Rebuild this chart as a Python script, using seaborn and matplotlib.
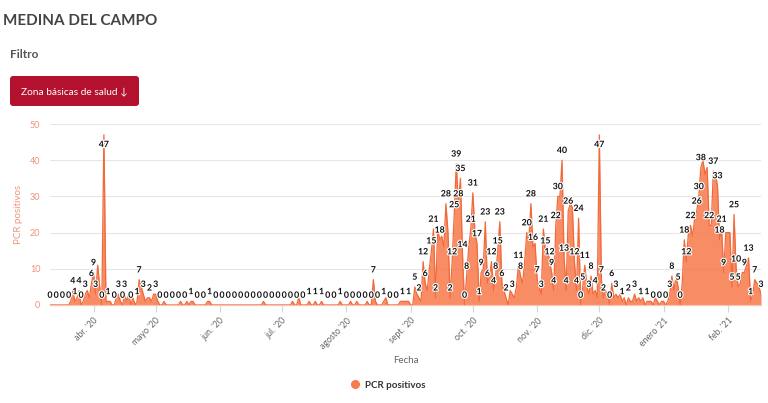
import numpy as np
import pandas as pd
import matplotlib
matplotlib.use("Agg")
import matplotlib.pyplot as plt
import matplotlib.patheffects as pe
from matplotlib.patches import FancyBboxPatch
from matplotlib.lines import Line2D
import seaborn as sns

# ---------------- data (daily PCR positives) ----------------
start_date = "2020-03-11"
pcr_mar_2020 = [0, 0, 0, 0, 0, 0, 0, 0, 0, 0, 1, 4, 1, 2, 4, 0, 1, 3, 4, 2, 6]
pcr_apr_2020 = [9, 3, 11, 5, 0, 47, 1, 1, 1, 0, 0, 2, 3, 1, 0, 3, 1, 3, 0, 2,
                0, 1, 7, 5, 3, 1, 2, 2, 1, 3]
pcr_may_2020 = [3, 1, 0, 0, 1, 0, 0, 0, 0, 0, 0, 0, 1, 0, 0, 1, 0, 1, 1, 0,
                0, 0, 0, 0, 0, 1, 1, 0, 0, 0, 0]
pcr_jun_2020 = [0, 0, 0, 0, 0, 0, 0, 0, 0, 0, 0, 0, 0, 0, 0, 0, 0, 0, 0, 0,
                0, 1, 0, 0, 0, 0, 0, 0, 0, 0]
pcr_jul_2020 = [0, 0, 0, 0, 0, 1, 0, 0, 2, 0, 0, 0, 0, 1, 0, 0, 1, 0, 0, 1,
                0, 0, 0, 0, 0, 0, 0, 0, 1, 0, 0]
pcr_aug_2020 = [0, 0, 1, 0, 0, 1, 0, 0, 0, 0, 1, 0, 0, 7, 1, 0, 0, 0, 1, 2,
                0, 0, 0, 0, 0, 0, 1, 1, 1, 1, 1]
pcr_sep_2020 = [0, 0, 5, 3, 2, 1, 12, 6, 4, 10, 15, 21, 2, 21, 18, 19, 16, 28, 20, 2,
                12, 25, 39, 28, 35, 14, 0, 8, 16, 21]
pcr_oct_2020 = [31, 20, 17, 1, 9, 10, 23, 6, 8, 12, 4, 8, 15, 23, 6, 4, 2, 0, 4, 3,
                2, 5, 11, 8, 6, 12, 20, 18, 28, 16, 17]
pcr_nov_2020 = [7, 5, 3, 21, 15, 16, 12, 9, 4, 22, 30, 30, 40, 13, 4, 26, 28, 27, 12, 4,
                24, 0, 5, 11, 5, 3, 8, 3, 4, 2]
pcr_dec_2020 = [47, 7, 2, 4, 3, 0, 6, 2, 3, 2, 3, 1, 2, 0, 2, 1, 1, 3, 1, 2,
                1, 2, 0, 1, 1, 1, 0, 2, 1, 0, 1]
pcr_jan_2021 = [1, 0, 1, 3, 8, 4, 8, 5, 0, 6, 18, 12, 20, 22, 19, 24, 26, 30, 38, 40,
                36, 38, 22, 22, 37, 36, 33, 18, 21, 9, 20]
pcr_feb_2021 = [20, 20, 5, 25, 10, 5, 6, 9, 9, 11, 13, 1, 3, 7, 6, 5, 3]

month_ticks = ["2020-04-01", "2020-05-01", "2020-06-01", "2020-07-01", "2020-08-01",
               "2020-09-01", "2020-10-01", "2020-11-01", "2020-12-01", "2021-01-01",
               "2021-02-01"]
month_labels = ["abr. '20", "mayo '20", "jun. '20", "jul. '20", "agosto '20",
                "sept. '20", "oct. '20", "nov. '20", "dic. '20", "enero '21", "feb. '21"]
y_ticks = [0, 10, 20, 30, 40, 50]

values = (pcr_mar_2020 + pcr_apr_2020 + pcr_may_2020 + pcr_jun_2020 + pcr_jul_2020 +
          pcr_aug_2020 + pcr_sep_2020 + pcr_oct_2020 + pcr_nov_2020 + pcr_dec_2020 +
          pcr_jan_2021 + pcr_feb_2021)
dates = pd.date_range(start_date, periods=len(values), freq="D")
df = pd.DataFrame({"Fecha": dates, "PCR positivos": values})

# ---------------- style ----------------
sns.set_theme(style="white")
plt.rcParams["font.family"] = ["Lato", "DejaVu Sans"]

W, H = 768, 403
fig = plt.figure(figsize=(W / 100, H / 100), dpi=100)
fig.patch.set_facecolor("white")

x0, x1, ytop, ybot = 50, 761, 124, 305
ax = fig.add_axes([x0 / W, 1 - ybot / H, (x1 - x0) / W, (ybot - ytop) / H])
ax.set_facecolor("white")

fill_color = "#F67C50"
line_color = "#F2693A"
ax.fill_between(df["Fecha"], df["PCR positivos"], 0, color=fill_color, alpha=0.88,
                linewidth=0, zorder=2)
sns.lineplot(data=df, x="Fecha", y="PCR positivos", ax=ax, color=line_color,
             linewidth=0.9, legend=False, zorder=3)

ax.set_xlim(dates[0], dates[-1])
ax.set_ylim(0, 50)
ax.set_yticks(y_ticks)
ax.set_yticklabels([str(v) for v in y_ticks])
ax.yaxis.grid(True, color="#e6e6e6", linewidth=0.8)
ax.xaxis.grid(False)
ax.set_axisbelow(True)

ax.set_xticks(pd.to_datetime(month_ticks))
ax.set_xticklabels(month_labels, rotation=45, ha="right", va="top",
                   rotation_mode="anchor")
ax.tick_params(axis="x", length=5, width=0.8, color="#ccd6eb", labelsize=6.3,
               labelcolor="#666666", pad=3, direction="out", bottom=True)
ax.tick_params(axis="y", length=0, labelsize=6.5, labelcolor="#F0937B", pad=7)

for s in ["top", "right", "left"]:
    ax.spines[s].set_visible(False)
ax.spines["bottom"].set_color("#f3c4b4")
ax.spines["bottom"].set_linewidth(0.9)

ax.set_xlabel("Fecha", fontsize=7, color="#666666", labelpad=4)
ax.set_ylabel("PCR positivos", fontsize=7, color="#F0937B", labelpad=5)

# ---------------- header ----------------
fig.text(3 / W, 1 - 21 / H, "MEDINA DEL CAMPO", fontsize=11, fontweight="bold",
         color="#444444", va="center", ha="left")
fig.text(10 / W, 1 - 54 / H, "Filtro", fontsize=8.5, fontweight="bold",
         color="#555555", va="center", ha="left")
btn = FancyBboxPatch((10 / W, 1 - 106 / H), 129 / W, 30 / H,
                     boxstyle="round,pad=0,rounding_size=0.004",
                     transform=fig.transFigure, facecolor="#B3112E",
                     edgecolor="none", mutation_aspect=W / H)
fig.patches.append(btn)
fig.text(74.5 / W, 1 - 91.5 / H, "Zona básicas de salud ↓", fontsize=7.3,
         color="white", va="center", ha="center")

# ---------------- legend ----------------
handle = Line2D([], [], marker="o", linestyle="none", markersize=5.5,
                markerfacecolor=fill_color, markeredgecolor=fill_color)
fig.legend(handles=[handle], labels=["PCR positivos"], loc="center",
           bbox_to_anchor=(388 / W, 1 - 385 / H), frameon=False,
           prop={"weight": "bold", "size": 7}, handletextpad=0.5,
           handlelength=1.0, labelcolor="#333333")

# ---------------- data labels (greedy overlap hiding) ----------------
fig.canvas.draw()
renderer = fig.canvas.get_renderer()
placed = []
for d, v in zip(dates, values):
    below = v > 45
    t = ax.annotate(str(v), (d, v), xytext=(0, -7 if below else 7),
                    textcoords="offset points", ha="center", va="center",
                    fontsize=6.3, fontweight="bold", color="#111111",
                    path_effects=[pe.withStroke(linewidth=1.6, foreground="white")],
                    zorder=6, annotation_clip=False)
    bb = t.get_window_extent(renderer).expanded(0.98, 1.2)
    if any(bb.overlaps(p) for p in placed):
        t.remove()
    else:
        placed.append(bb)

fig.savefig("out.png", dpi=100)
